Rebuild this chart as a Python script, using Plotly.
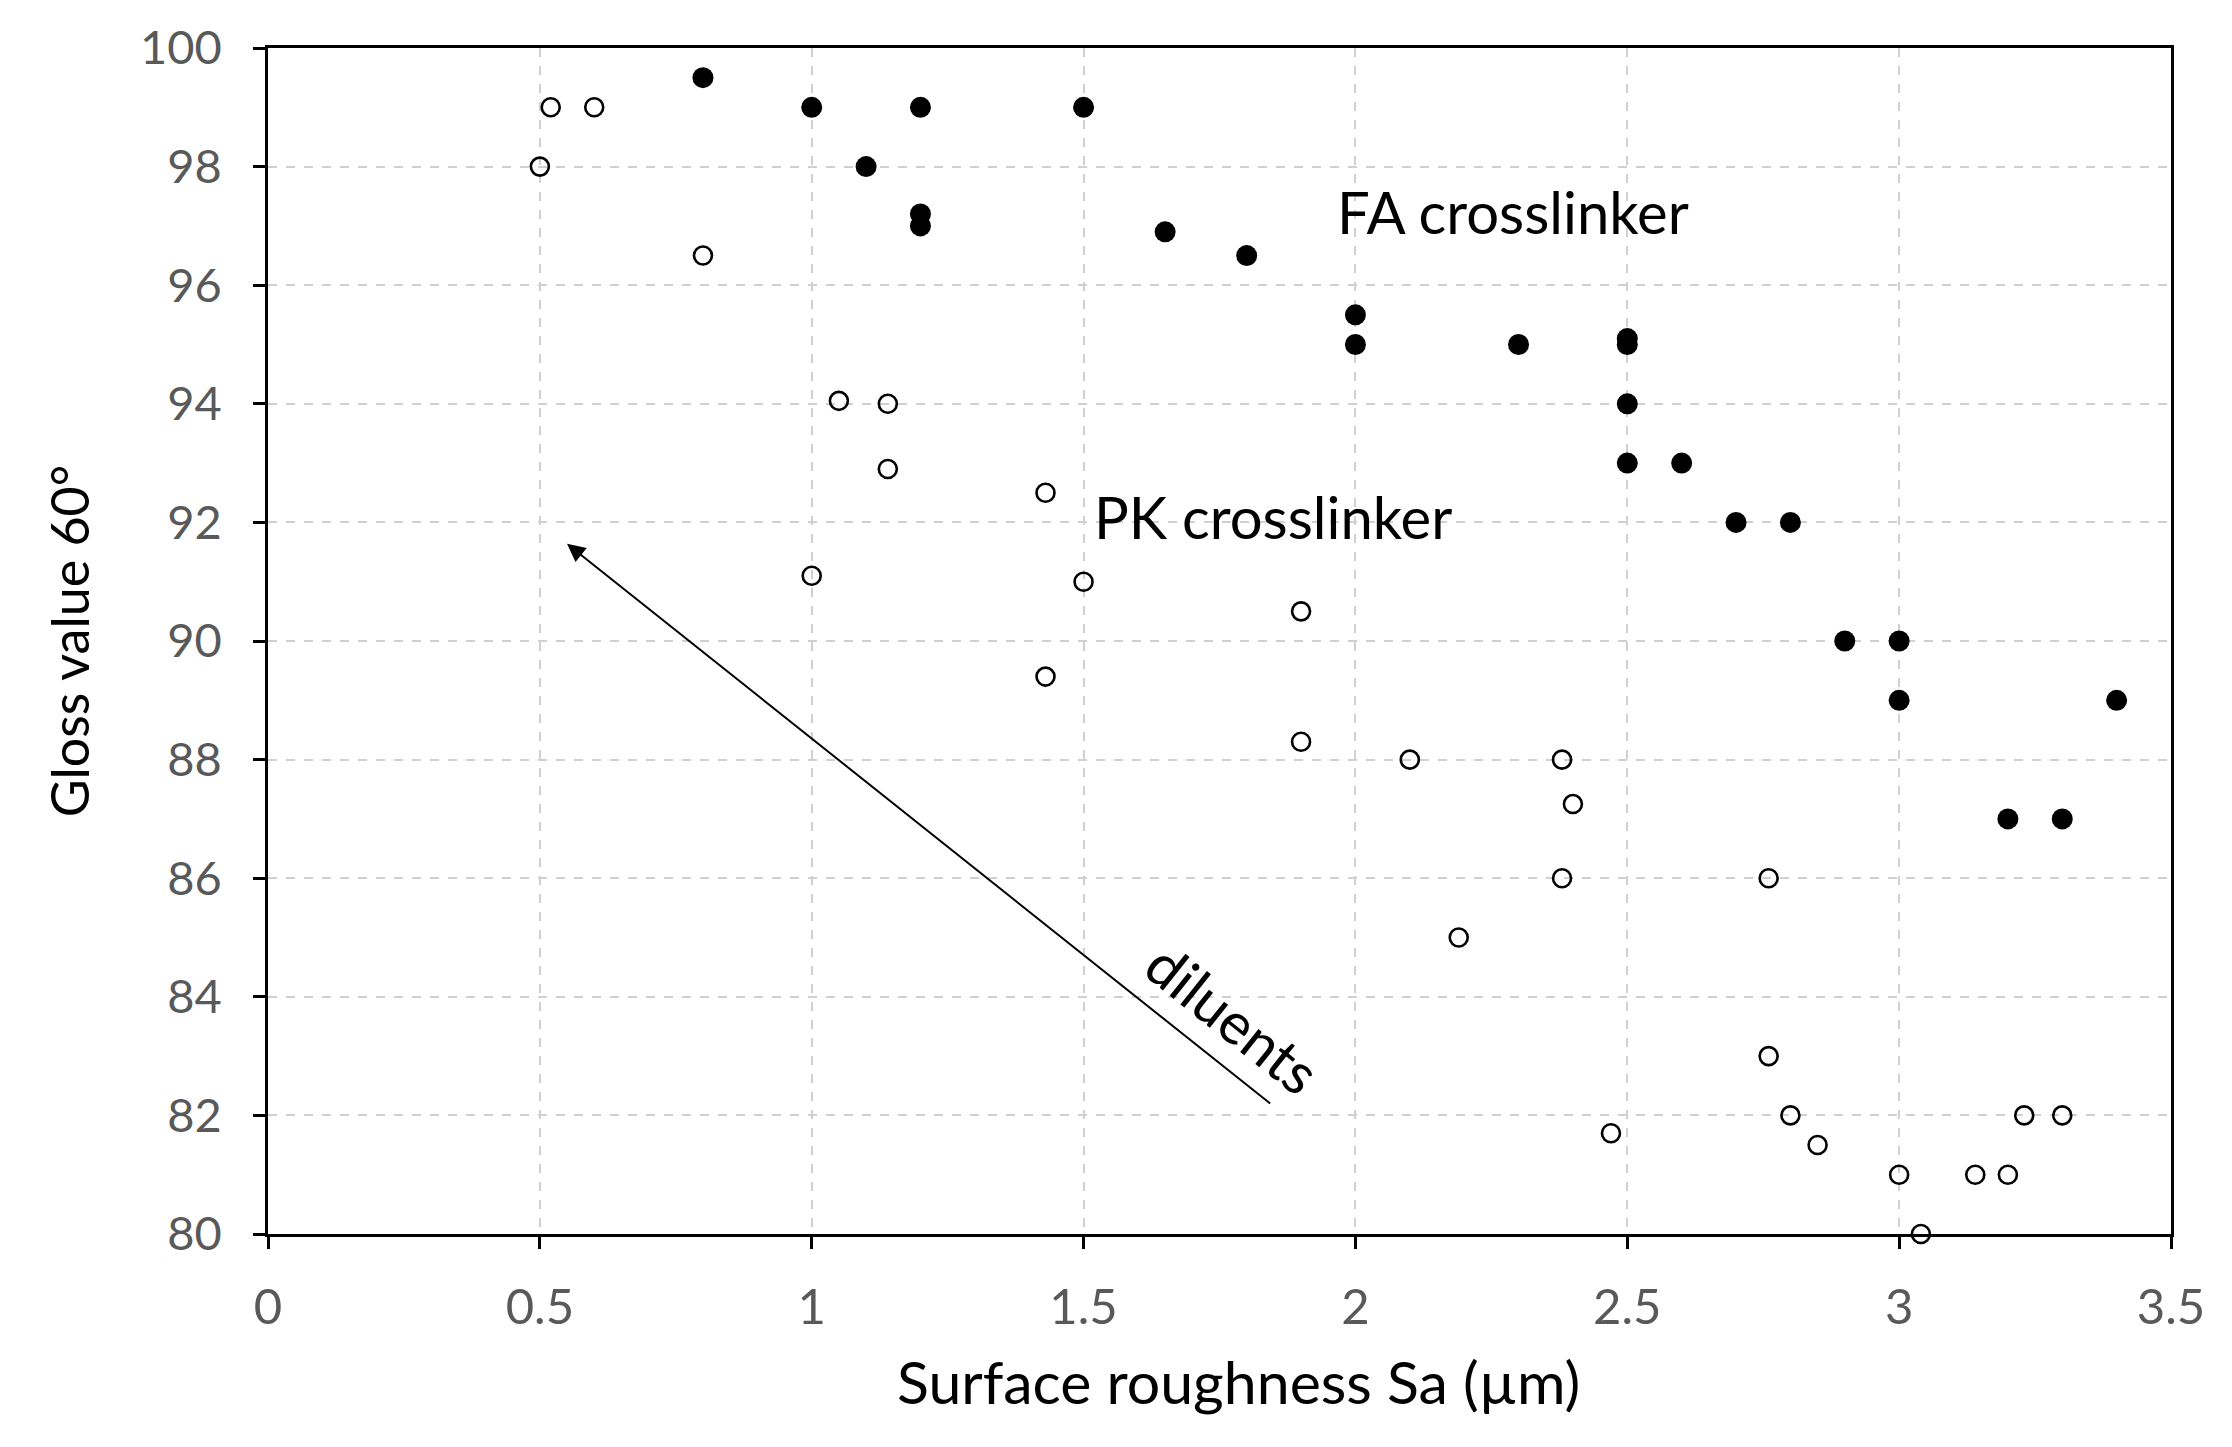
import plotly.graph_objects as go

# FA crosslinker (filled markers)
fa_sa = [0.8, 1.0, 1.2, 1.5, 1.1, 1.2, 1.2, 1.65, 1.8, 2.0, 2.0, 2.3, 2.5, 2.5, 2.5, 2.5,
         2.6, 2.7, 2.8, 2.9, 3.0, 3.0, 3.4, 3.2, 3.3]
fa_gloss = [99.5, 99.0, 99.0, 99.0, 98.0, 97.2, 97.0, 96.9, 96.5, 95.5, 95.0, 95.0, 95.1, 95.0, 94.0, 93.0,
            93.0, 92.0, 92.0, 90.0, 90.0, 89.0, 89.0, 87.0, 87.0]

# PK crosslinker (open markers)
pk_sa = [0.52, 0.6, 0.5, 0.8, 1.05, 1.14, 1.14, 1.43, 1.0, 1.5, 1.43, 1.9, 1.9, 2.1, 2.38, 2.4,
         2.38, 2.19, 2.76, 2.76, 2.47, 2.8, 2.85, 3.0, 3.14, 3.2, 3.23, 3.3, 3.04]
pk_gloss = [99.0, 99.0, 98.0, 96.5, 94.05, 94.0, 92.9, 92.5, 91.1, 91.0, 89.4, 90.5, 88.3, 88.0, 88.0, 87.25,
            86.0, 85.0, 86.0, 83.0, 81.7, 82.0, 81.5, 81.0, 81.0, 81.0, 82.0, 82.0, 80.0]

x_title = "Surface roughness Sa (µm)"
y_title = "Gloss value 60°"
FONT = "Lato"

fig = go.Figure()
fig.add_trace(go.Scatter(
    x=pk_sa, y=pk_gloss, mode="markers", name="PK crosslinker",
    marker=dict(symbol="circle-open", size=18, color="black", line=dict(width=2.6, color="black")),
    cliponaxis=False,
))
fig.add_trace(go.Scatter(
    x=fa_sa, y=fa_gloss, mode="markers", name="FA crosslinker",
    marker=dict(symbol="circle", size=21, color="black"),
    cliponaxis=False,
))

fig.add_annotation(x=1.963, y=97.24, xref="x", yref="y", text="FA crosslinker", showarrow=False,
                   xanchor="left", yanchor="middle", font=dict(family=FONT, size=58, color="black"))
fig.add_annotation(x=1.516, y=92.1, xref="x", yref="y", text="PK crosslinker", showarrow=False,
                   xanchor="left", yanchor="middle", font=dict(family=FONT, size=58, color="black"))
fig.add_annotation(x=1.775, y=83.65, xref="x", yref="y", text="diluents", showarrow=False,
                   textangle=38.5, font=dict(family=FONT, size=58, color="black"))
fig.add_annotation(x=0.55, y=91.64, ax=1.846, ay=82.18, xref="x", yref="y", axref="x", ayref="y",
                   text="", showarrow=True, arrowhead=2, arrowsize=1.8, arrowwidth=2, arrowcolor="black")

# x-axis title (placed slightly right of centre as in the original)
fig.add_annotation(x=0.51, y=-0.124, xref="paper", yref="paper", text=x_title, showarrow=False,
                   xanchor="center", yanchor="middle", font=dict(family=FONT, size=59, color="black"))

axis_common = dict(
    showline=True, linecolor="black", linewidth=2.5, mirror=True,
    ticks="outside", ticklen=12, tickwidth=2.5, tickcolor="black",
    showgrid=True, gridcolor="#d0d0d0", gridwidth=2, griddash="dash",
    zeroline=False,
)

fig.update_xaxes(range=[0, 3.5], dtick=0.5, tick0=0, ticklabelstandoff=16,
                 tickfont=dict(family=FONT, size=49, color="#595959"), **axis_common)
fig.update_yaxes(range=[80, 100], dtick=2, tick0=80, ticklabelstandoff=22,
                 tickfont=dict(family=FONT, size=47, color="#595959"), **axis_common,
                 title=dict(text=y_title, font=dict(family=FONT, size=52, color="black"), standoff=34))

fig.update_layout(
    width=2232, height=1447,
    margin=dict(l=268, r=61, t=48, b=213),
    plot_bgcolor="white", paper_bgcolor="white",
    showlegend=False,
    font=dict(family=FONT),
)

fig.write_html("out.html")
